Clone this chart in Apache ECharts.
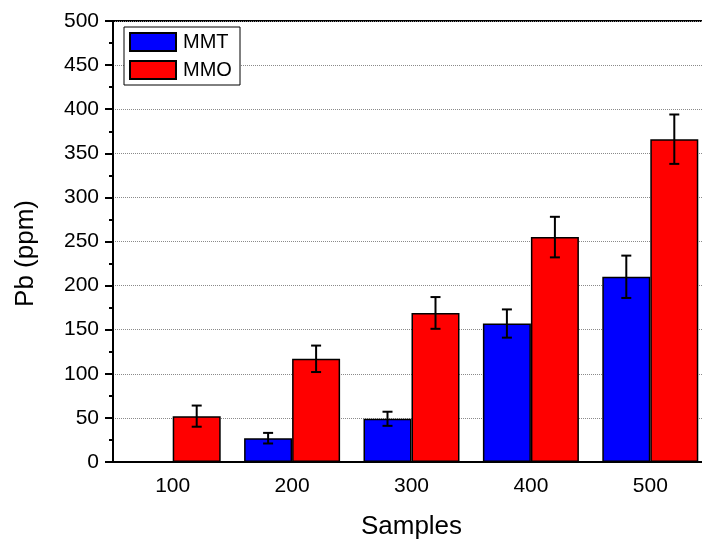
<!DOCTYPE html>
<html>
<head>
<meta charset="utf-8">
<script src="https://cdn.jsdelivr.net/npm/echarts@6/dist/echarts.min.js"></script>
<style>
  html, body { margin: 0; padding: 0; background: #fff; overflow: hidden; }
  /* plot frame runs past the right edge of the figure, so the canvas is a bit wider */
  #chart { width: 711px; height: 548px; }
</style>
</head>
<body>
<div id="chart"></div>
<script>
// data
const samples = ["100", "200", "300", "400", "500"];
const mmt = [null, 27, 49, 157, 210];
const mmtErr = [null, 6, 8, 16, 24];
const mmo = [52, 117, 169, 255, 366];
const mmoErr = [12, 15, 18, 23, 28];

const FONT = "Liberation Sans, Arial, sans-serif";
const BAR_W = 48;

function errData(vals, errs) {
  const out = [];
  vals.forEach((v, i) => {
    if (v != null && errs[i] != null) out.push([i, v, errs[i]]);
  });
  return out;
}

function errBar(offset) {
  return function (params, api) {
    const i = api.value(0), v = api.value(1), e = api.value(2);
    const top = api.coord([i, v + e]);
    const bot = api.coord([i, v - e]);
    const x = top[0] + offset;
    const st = { stroke: "#000", lineWidth: 2 };
    return {
      type: "group",
      children: [
        { type: "line", shape: { x1: x, y1: top[1], x2: x, y2: bot[1] }, style: st },
        { type: "line", shape: { x1: x - 5, y1: top[1], x2: x + 5, y2: top[1] }, style: st },
        { type: "line", shape: { x1: x - 5, y1: bot[1], x2: x + 5, y2: bot[1] }, style: st }
      ]
    };
  };
}

var myChart = echarts.init(document.getElementById("chart"));
myChart.setOption({
  backgroundColor: "#fff",
  animation: false,
  textStyle: { fontFamily: FONT },
  grid: {
    left: 113, top: 21, right: 1, bottom: 86,
    containLabel: false,
    show: true, borderColor: "#000", borderWidth: 2, backgroundColor: "transparent"
  },
  legend: {
    orient: "vertical",
    left: 124, top: 27,
    padding: [5, 5, 5, 5],
    borderColor: "#000", borderWidth: 1,
    icon: "rect",
    itemWidth: 46, itemHeight: 18, itemGap: 8,
    backgroundColor: "#fff",
    textStyle: { fontSize: 20, color: "#000", fontFamily: FONT, lineHeight: 18, width: 52, padding: [0, 0, 0, 2] },
    data: ["MMT", "MMO"]
  },
  xAxis: {
    type: "category",
    data: samples,
    name: "Samples",
    nameLocation: "middle",
    nameGap: 52,
    nameTextStyle: { fontSize: 26, color: "#000", fontFamily: FONT },
    axisLine: { lineStyle: { color: "#000", width: 2 } },
    axisTick: { alignWithLabel: true, length: 8, lineStyle: { color: "#000", width: 2 } },
    axisLabel: { fontSize: 21, color: "#000", margin: 14, fontFamily: FONT },
    splitLine: { show: false }
  },
  yAxis: {
    type: "value",
    min: 0, max: 500, interval: 50,
    name: "Pb (ppm)",
    nameLocation: "middle",
    nameGap: 74,
    nameTextStyle: { fontSize: 26, color: "#000", fontFamily: FONT, padding: [0, 24, 0, 0] },
    axisLine: { show: true, lineStyle: { color: "#000", width: 2 } },
    axisTick: { show: true, length: 8, lineStyle: { color: "#000", width: 2 } },
    minorTick: { show: true, splitNumber: 2, length: 4, lineStyle: { color: "#000", width: 2 } },
    axisLabel: { fontSize: 21, color: "#000", margin: 14, fontFamily: FONT },
    splitLine: { show: true, lineStyle: { color: "#8a8a8a", type: "dotted", width: 1 } }
  },
  series: [
    {
      name: "MMT", type: "bar", data: mmt,
      barWidth: BAR_W, barGap: "0%",
      itemStyle: { color: "#0000ff", borderColor: "#000", borderWidth: 1.5 }
    },
    {
      name: "MMO", type: "bar", data: mmo,
      barWidth: BAR_W, barGap: "0%",
      itemStyle: { color: "#ff0000", borderColor: "#000", borderWidth: 1.5 }
    },
    {
      type: "custom", name: "MMT err", renderItem: errBar(-BAR_W / 2),
      data: errData(mmt, mmtErr), z: 5, encode: { x: 0, y: 1 }
    },
    {
      type: "custom", name: "MMO err", renderItem: errBar(BAR_W / 2),
      data: errData(mmo, mmoErr), z: 5, encode: { x: 0, y: 1 }
    }
  ]
});
</script>
</body>
</html>
